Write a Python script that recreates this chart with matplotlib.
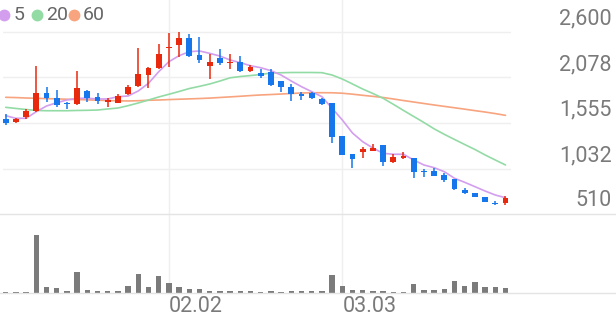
import matplotlib
matplotlib.use("Agg")
import matplotlib.pyplot as plt
from matplotlib.lines import Line2D
from matplotlib.transforms import blended_transform_factory, offset_copy
import numpy as np

plt.rcParams['font.family'] = ['Roboto', 'DejaVu Sans']

# ---------------- data ----------------
opens  = [1597, 1566, 1627, 1692, 1896, 1845, 1784, 1769, 1925, 1857,
          1799, 1788, 1888, 1979, 2106, 2190, 2412, 2450, 2534, 2335,
          2212, 2304, 2240, 2251, 2152, 2125, 2144, 2037, 1971, 1884,
          1896, 1830, 1788, 1405, 1195, 1218, 1233, 1302, 1110, 1156,
          1149, 1004, 1007, 958, 912, 786, 755, 709, 633, 633]
highs  = [1655, 1612, 1715, 2206, 1971, 1934, 1792, 2152, 1937, 1896,
          1838, 1888, 1991, 2419, 2198, 2465, 2584, 2596, 2573, 2539,
          2343, 2401, 2343, 2324, 2221, 2171, 2171, 2037, 2000, 1914,
          1914, 1845, 1788, 1405, 1195, 1283, 1310, 1302, 1195, 1225,
          1149, 1027, 1035, 984, 912, 805, 755, 709, 659, 720]
lows   = [1532, 1558, 1601, 1678, 1792, 1738, 1715, 1761, 1799, 1769,
          1742, 1781, 1876, 1968, 1953, 2171, 2194, 2309, 2316, 2247,
          2056, 2221, 2171, 2144, 2144, 2068, 1983, 1914, 1807, 1819,
          1830, 1761, 1322, 1187, 1042, 1149, 1233, 1065, 1099, 1141,
          927, 938, 950, 874, 786, 736, 702, 651, 613, 613]
closes = [1551, 1604, 1696, 1896, 1838, 1761, 1769, 1960, 1845, 1804,
          1819, 1865, 1968, 2114, 2183, 2350, 2427, 2527, 2327, 2274,
          2258, 2243, 2258, 2152, 2194, 2098, 1991, 1965, 1884, 1865,
          1838, 1773, 1391, 1187, 1141, 1253, 1264, 1110, 1168, 1176,
          996, 989, 950, 900, 797, 748, 702, 651, 621, 697]
ma5  = [1639, 1609, 1609, 1685, 1750, 1788, 1819, 1839, 1839, 1831,
        1831, 1857, 1865, 1923, 2011, 2144, 2259, 2328, 2374, 2382,
        2355, 2324, 2279, 2248, 2213, 2190, 2156, 2106, 2037, 1972,
        1915, 1857, 1724, 1590, 1440, 1340, 1268, 1207, 1196, 1196,
        1130, 1073, 1042, 996, 920, 874, 824, 774, 728, 697]
ma20 = [1735, 1722, 1710, 1699, 1696, 1696, 1696, 1699, 1701, 1704,
        1716, 1727, 1754, 1785, 1819, 1854, 1885, 1917, 1951, 1976,
        2003, 2037, 2074, 2089, 2100, 2112, 2129, 2132, 2135, 2135,
        2135, 2133, 2106, 2060, 2003, 1945, 1894, 1839, 1770, 1699,
        1630, 1561, 1488, 1425, 1366, 1308, 1251, 1188, 1130, 1073]
ma60 = [1850, 1847, 1842, 1839, 1835, 1832, 1828, 1825, 1821, 1817,
        1813, 1810, 1808, 1811, 1816, 1819, 1824, 1828, 1832, 1836,
        1841, 1848, 1855, 1862, 1870, 1877, 1882, 1888, 1894, 1900,
        1902, 1903, 1902, 1897, 1886, 1873, 1861, 1848, 1831, 1813,
        1796, 1779, 1762, 1746, 1730, 1714, 1697, 1681, 1663, 1643]
volumes = [15, 10, 10, 576, 60, 50, 23, 210, 33, 23,
           23, 23, 70, 190, 56, 170, 103, 57, 43, 43,
           23, 17, 17, 17, 17, 10, 17, 13, 17, 17,
           17, 23, 177, 73, 30, 30, 20, 20, 13, 10,
           93, 30, 30, 43, 117, 73, 107, 60, 57, 53]
y_ticks = [2600, 2078, 1555, 1032, 510]
y_tick_labels = ["2,600", "2,078", "1,555", "1,032", "510"]
date_ticks = {16: "02.02", 33: "03.03"}
ma_labels = ["5", "20", "60"]

# ---------------- style ----------------
UP = '#E8290E'
DOWN = '#1676EC'
MA_COLORS = ['#D39EEE', '#93DBA5', '#F7A47F']
GRID = '#EFEFEF'
TXT = '#7A7A7A'

W, H = 616, 321
fig = plt.figure(figsize=(W / 100, H / 100), dpi=100)

def fx(px):
    return px / W

def fy(py):
    return 1 - py / H

x0, x1 = 3, 511
ax = fig.add_axes([fx(x0), fy(214), fx(x1 - x0), fy(22) - fy(214)])
axv = fig.add_axes([fx(x0), fy(293), fx(x1 - x0), fy(222) - fy(293)])

n = len(opens)
idx = np.arange(n)
spacing = 10.2
xlo = -(5.7 - x0) / spacing
xhi = xlo + (x1 - x0) / spacing
for a in (ax, axv):
    a.set_xlim(xlo, xhi)
    a.axis('off')

ax.set_ylim(510, 510 + 192 * 11.484)
axv.set_ylim(0, 710)

# horizontal grid
for v in y_ticks[:-1]:
    ax.axhline(v, color=GRID, lw=1.0, zorder=0)

# moving averages
for vals, c in zip([ma60, ma20, ma5], MA_COLORS[::-1]):
    ax.plot(idx, vals, color=c, lw=1.2, zorder=2, solid_capstyle='round')

# candles
o = np.array(opens); c = np.array(closes)
hi = np.array(highs); lo = np.array(lows)
cols = [UP if cc >= oo else DOWN for oo, cc in zip(o, c)]
ax.vlines(idx, lo, hi, colors=cols, lw=1.1, zorder=3)
bottoms = np.minimum(o, c)
heights = np.maximum(np.abs(c - o), 18)
ax.bar(idx, heights, bottom=bottoms, width=0.58, color=cols, lw=0, zorder=4)

# volume
axv.bar(idx, volumes, width=0.52, color='#7B7B7B', lw=0, zorder=3)

# full-width base lines
fig.add_artist(Line2D([0, 1], [fy(214), fy(214)], color='#E4E4E4', lw=1.0,
                      transform=fig.transFigure))
fig.add_artist(Line2D([0, 1], [fy(293), fy(293)], color='#E4E4E4', lw=1.0,
                      transform=fig.transFigure))

# vertical date grid lines + labels
btr = blended_transform_factory(ax.transData, fig.transFigure)
for i, lab in date_ticks.items():
    fig.add_artist(Line2D([i, i], [fy(293), 1], color=GRID, lw=1.0,
                          transform=btr, zorder=0))
    fig.text(i, fy(307), lab, transform=btr, ha='left', va='center',
             fontsize=15.5, color=TXT)

# y labels
ytr = offset_copy(blended_transform_factory(fig.transFigure, ax.transData),
                  fig=fig, x=0, y=13, units='dots')
for v, lab in zip(y_ticks, y_tick_labels):
    fig.text(fx(612), v, lab, transform=ytr, ha='right', va='center',
             fontsize=15.5, color=TXT)

# legend
leg_x = [(4, 14), (37, 46), (74, 83)]
for (cx, tx), col, lab in zip(leg_x, MA_COLORS, ma_labels):
    fig.add_artist(Line2D([fx(cx)], [fy(15)], marker='o', markersize=7.5,
                          color=col, lw=0, transform=fig.transFigure))
    fig.text(fx(tx), fy(15), lab, ha='left', va='center', fontsize=14,
             color='#666666')

fig.savefig('out.png', dpi=100)
